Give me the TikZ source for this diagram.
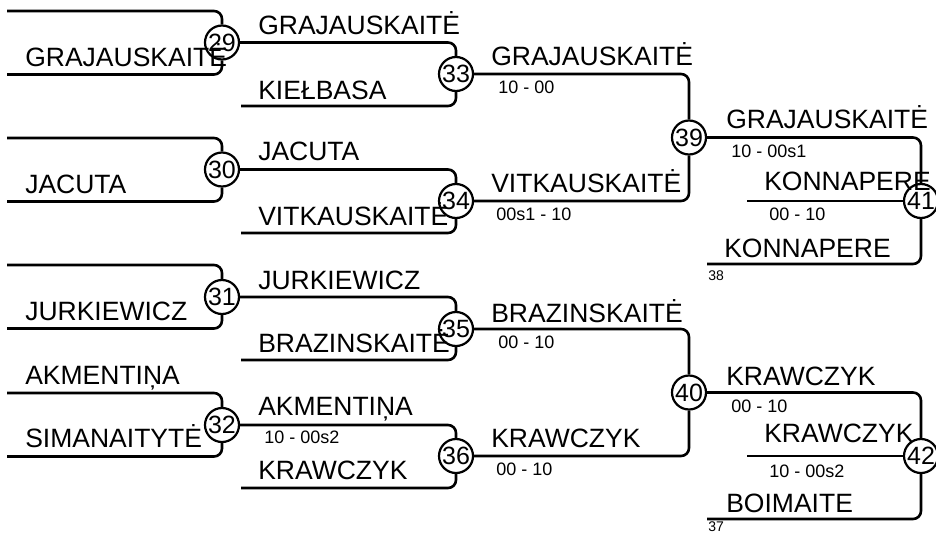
\documentclass[tikz,border=0pt]{standalone}
\usepackage{fontspec}
\setmainfont{Liberation Sans}
\begin{document}
\begin{tikzpicture}[x=1pt, y=-1pt, line width=2.6pt, rounded corners=8pt,
  bout/.style={circle, draw, line width=2.2pt, inner sep=0pt, minimum size=34pt, font=\fontsize{25}{25}\selectfont},
  fighter/.style={anchor=base west, inner sep=0pt, font=\fontsize{26.5}{26.5}\selectfont},
  score/.style={anchor=base west, inner sep=0pt, font=\fontsize{18}{18}\selectfont},
  pool/.style={anchor=base west, inner sep=0pt, font=\fontsize{14}{14}\selectfont}]
  \useasboundingbox (0,0) rectangle (936,533);
  % bouts
  \foreach \n/\x/\y in {29/222/42.5, 30/222/169.5, 31/222/297, 32/222/425,
                        33/456/74, 34/456/201, 35/456/329, 36/456/456,
                        39/689/137.5, 40/689/392.5, 41/921/201, 42/921/456}
    \node[bout] (b\n) at (\x,\y) {\n};
  % first round
  \foreach \n/\y in {29/11, 30/138, 31/265, 32/393}
    { \coordinate (t\n) at (7,\y); \coordinate (u\n) at (7,\y+63.5);
      \draw (t\n) -| (b\n.north); \draw (u\n) -| (b\n.south); }
  % second round
  \foreach \a/\b/\y in {29/33/106, 30/34/233, 31/35/360, 32/36/488}
    { \coordinate (u\b) at (241,\y);
      \draw (b\a.east) -| (b\b.north); \draw (u\b) -| (b\b.south); }
  % semi finals
  \draw (b33.east) -| (b39.north); \draw (b34.east) -| (b39.south);
  \draw (b35.east) -| (b40.north); \draw (b36.east) -| (b40.south);
  % finals with repechage
  \foreach \a/\b/\y/\z in {39/41/201/264, 40/42/456/519}
    { \coordinate (m\b) at (747,\y); \coordinate (l\b) at (707,\z);
      \draw (b\a.east) -| (b\b.north); \draw (m\b) -- (b\b.west); \draw (b\b.south) |- (l\b); }
  % names
  \foreach \x/\y/\t [count=\i] in {24/66/GRAJAUSKAITĖ, 24/193/JACUTA, 24/320/JURKIEWICZ, 24/384/AKMENTIŅA, 24/447/SIMANAITYTĖ,
      257/34/GRAJAUSKAITĖ, 257/99/KIEŁBASA, 257/160/JACUTA, 257/225/VITKAUSKAITĖ,
      257/289/JURKIEWICZ, 257/352/BRAZINSKAITĖ, 257/415/AKMENTIŅA, 257/479/KRAWCZYK,
      490/65/GRAJAUSKAITĖ, 490/192/VITKAUSKAITĖ, 490/322/BRAZINSKAITĖ, 490/447/KRAWCZYK,
      725/128/GRAJAUSKAITĖ, 763/190/KONNAPERE, 723/257/KONNAPERE,
      725/385/KRAWCZYK, 763/442/KRAWCZYK, 725/512/BOIMAITE}
    \node[fighter] (f\i) at (\x,\y) {\t};
  % scores
  \foreach \x/\y/\t [count=\i] in {263/443/10 - 00s2, 497/93/10 - 00, 495/220/00s1 - 10, 497/348/00 - 10,
      495/475/00 - 10, 730/157/10 - 00s1, 768/220/00 - 10, 730/412/00 - 10, 768/477/10 - 00s2}
    \node[score] (s\i) at (\x,\y) {\t};
  \node[pool] (p38) at (707,280) {38};
  \node[pool] (p37) at (707,531) {37};
\end{tikzpicture}
\end{document}
